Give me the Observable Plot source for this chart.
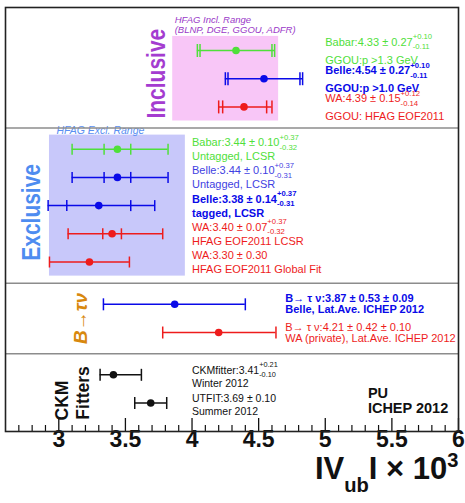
<!DOCTYPE html>
<html><head><meta charset="utf-8">
<script src="https://cdn.jsdelivr.net/npm/d3@7"></script>
<script src="https://cdn.jsdelivr.net/npm/@observablehq/plot@0.6"></script>
<style>body{margin:0;background:#fff;}</style>
</head><body><div id="chart"></div>
<script>
// ---------------- data ----------------
const sectionNames = ["Inclusive", "Exclusive", "B→τν", "CKM Fitters"];
const sectionSizes = [3, 5, 2, 2];
const experiments = ["Babar","Belle","WA","Babar","Belle","Belle","WA","WA","Belle","WA","CKMfitter","UTfit"];
const centers = [4.33, 4.54, 4.39, 3.44, 3.44, 3.30, 3.40, 3.23, 3.87, 4.20, 3.41, 3.69];
const statLo  = [4.06, 4.27, 4.23, 3.34, 3.34, 3.06, 3.33, null, null, null, null, null];
const statHi  = [4.60, 4.81, 4.56, 3.54, 3.54, 3.54, 3.47, null, null, null, null, null];
const totLo   = [4.04, 4.25, 4.20, 3.10, 3.10, 2.92, 3.07, 2.93, 3.335, 3.78, 3.31, 3.57];
const totHi   = [4.62, 4.83, 4.60, 3.82, 3.82, 3.72, 3.78, 3.53, 4.40, 4.63, 3.62, 3.81];
const labelLine1 = [
  "Babar:4.33 ± 0.27^{+0.10}_{-0.11}",
  "Belle:4.54 ± 0.27^{+0.10}_{-0.11}",
  "WA:4.39 ± 0.15^{+0.12}_{-0.14}",
  "Babar:3.44 ± 0.10^{+0.37}_{-0.32}",
  "Belle:3.44 ± 0.10^{+0.37}_{-0.31}",
  "Belle:3.38 ± 0.14^{+0.37}_{-0.31}",
  "WA:3.40 ± 0.07^{+0.37}_{-0.32}",
  "WA:3.30 ± 0.30",
  "B→ τ ν:3.87 ± 0.53 ± 0.09",
  "B→ τ ν:4.21 ± 0.42 ± 0.10",
  "CKMfitter:3.41^{+0.21}_{-0.10}",
  "UTFIT:3.69 ± 0.10"];
const labelLine2 = [
  "GGOU:p >1.3 GeV",
  "GGOU:p >1.0 GeV",
  "GGOU: HFAG EOF2011",
  "Untagged, LCSR",
  "Untagged, LCSR",
  "tagged, LCSR",
  "HFAG EOF2011 LCSR",
  "HFAG EOF2011 Global Fit",
  "Belle, Lat.Ave. ICHEP 2012",
  "WA (private), Lat.Ave. ICHEP 2012",
  "Winter 2012",
  "Summer 2012"];
const rangeNames = ["HFAG Incl. Range", "HFAG Excl. Range"];
const rangeSubtitles = ["(BLNP, DGE, GGOU, ADFR)", ""];
const rangeLo = [3.855, 2.93];
const rangeHi = [4.65, 3.95];
const majorTicks = [3, 3.5, 4, 4.5, 5, 5.5, 6];
const minorTicks = [2.7,2.8,2.9,3.1,3.2,3.3,3.4,3.6,3.7,3.8,3.9,4.1,4.2,4.3,4.4,4.6,4.7,4.8,4.9,5.1,5.2,5.3,5.4,5.6,5.7,5.8,5.9];
const axisTitle = "IV_{ub}I × 10^{3}";
const stampLines = ["PU", "ICHEP 2012"];

// ---------------- layout / style ----------------
const W = 465, H = 503, mTop = 7, mBottom = 72, mLeft = 5, mRight = 7;
const innerH = H - mTop - mBottom;
const green = "#4fe03a", blue = "#0a0ae8", red = "#ee1c1c", black = "#111";
const expColor = {Babar: green, Belle: blue, WA: red, CKMfitter: black, UTfit: black};
const textColorOverride = {4: "#3f3fe2"};
const boldRows = new Set([1, 5, 8]);
const sectionStyle = [
  {labelX: 5.0, dy: [-8, 9.5], fs: 11, cap: 6.5},
  {labelX: 4.0, dy: [-6.5, 7.5], fs: 11, cap: 5.5},
  {labelX: 4.70, dy: [-5.5, 5.5], fs: 11, cap: 6},
  {labelX: 4.0, dy: [-4.5, 9], fs: 10.5, cap: 6}
];

// row positions (in row units) computed from the section sizes
const table = [];
const sectionRows = [];
{
  let r = 0, i = 0;
  sectionSizes.forEach((n, s) => {
    const rs = [];
    for (let k = 0; k < n; k++, i++, r++) {
      rs.push(r);
      table.push({i, s, row: r, exp: experiments[i], c: centers[i],
        sLo: statLo[i], sHi: statHi[i], tLo: totLo[i], tHi: totHi[i],
        l1: labelLine1[i], l2: labelLine2[i]});
    }
    sectionRows.push(rs);
    r += 0.5;
  });
}
const firstRow = table[0].row, lastRow = table[table.length - 1].row;
const yDomain = [firstRow - 1.525, lastRow + 1.01];
const pxPerRow = innerH / (yDomain[1] - yDomain[0]);
const separators = sectionRows.slice(1).map((rs, k) => (rs[0] + sectionRows[k][sectionRows[k].length - 1]) / 2);
const ranges = rangeNames.map((n, k) => ({name: n, sub: rangeSubtitles[k], lo: rangeLo[k], hi: rangeHi[k],
  top: sectionRows[k][0] - 0.5, bottom: sectionRows[k][sectionRows[k].length - 1] + 0.5}));

const vbar = {draw(ctx, size) { const h = Math.sqrt(size); ctx.moveTo(0, -h); ctx.lineTo(0, h); }};
const colorOf = d => expColor[d.exp];

const marks = [];
// range boxes
marks.push(Plot.rect([ranges[0]], {x1: "lo", x2: "hi", y1: "top", y2: "bottom", fill: "#f8c6f7"}));
marks.push(Plot.rect([ranges[1]], {x1: "lo", x2: "hi", y1: "top", y2: "bottom", fill: "#c8c8fa"}));
marks.push(Plot.text([ranges[0]], {x: "lo", y: "top", text: "name", dx: 2, dy: -16, textAnchor: "start", fontSize: 9.5, fontStyle: "italic", fill: "#9a38c8"}));
marks.push(Plot.text([ranges[0]], {x: "lo", y: "top", text: "sub", dx: 2, dy: -6, textAnchor: "start", fontSize: 9.5, fontStyle: "italic", fill: "#9a38c8"}));
marks.push(Plot.text([ranges[1]], {x: "lo", y: "top", text: "name", dx: 7, dy: -4, textAnchor: "start", fontSize: 10.5, fontStyle: "italic", fill: "#5a8ff2"}));
// separators
marks.push(Plot.ruleY(separators, {stroke: "#8c8c8c", strokeWidth: 1.5}));
// error bars
marks.push(Plot.ruleY(table, {y: "row", x1: "tLo", x2: "tHi", stroke: colorOf, strokeWidth: 1.5}));
for (let s = 0; s < sectionSizes.length; s++) {
  const rows = table.filter(d => d.s === s);
  const r = sectionStyle[s].cap / Math.sqrt(Math.PI);
  for (const key of ["tLo", "tHi", "sLo", "sHi"]) {
    marks.push(Plot.dot(rows.filter(d => d[key] != null), {x: key, y: "row", symbol: vbar, r, stroke: colorOf, strokeWidth: 1.5}));
  }
}
marks.push(Plot.dot(table, {x: "c", y: "row", r: 3.8, fill: colorOf}));
// right-hand labels
for (const d of table) {
  const st = sectionStyle[d.s];
  const col = textColorOverride[d.i] || expColor[d.exp];
  const fw = boldRows.has(d.i) ? "bold" : "normal";
  marks.push(Plot.text([d], {x: () => st.labelX, y: "row", text: "l1", dy: st.dy[0], textAnchor: "start", fontSize: st.fs, fontWeight: fw, fill: col}));
  marks.push(Plot.text([d], {x: () => st.labelX, y: "row", text: "l2", dy: st.dy[1], textAnchor: "start", fontSize: st.fs, fontWeight: fw, fill: col}));
}
// section labels (rotated)
const mid = k => (sectionRows[k][0] + sectionRows[k][sectionRows[k].length - 1]) / 2;
marks.push(Plot.text([sectionNames[0]], {x: () => 3.733, y: () => mid(0) - 0.18, text: d => d, rotate: -90, fontSize: 21, fontWeight: "bold", fill: "#a43cd0"}));
marks.push(Plot.text([sectionNames[1]], {x: () => 2.80, y: () => mid(1) + 0.24, text: d => d, rotate: -90, fontSize: 21, fontWeight: "bold", fill: "#4e8cf0"}));
marks.push(Plot.text([sectionNames[2]], {x: () => 3.163, y: () => mid(2), text: d => d, rotate: -90, fontSize: 19, fontWeight: "bold", fontStyle: "italic", fill: "#d8880e"}));
const ckmWords = sectionNames[3].split(" ");
marks.push(Plot.text([ckmWords[0]], {x: () => 3.028, y: () => lastRow + 0.62, text: d => d, rotate: -90, textAnchor: "start", fontSize: 17.5, fontWeight: "bold", fill: black}));
marks.push(Plot.text([ckmWords[1]], {x: () => 3.185, y: () => lastRow + 0.59, text: d => d, rotate: -90, textAnchor: "start", fontSize: 17.5, fontWeight: "bold", fill: black}));
// stamp
marks.push(Plot.text([stampLines[0]], {x: () => 5.32, y: () => lastRow, text: d => d, dy: -9.5, textAnchor: "start", fontSize: 14.5, fontWeight: "bold", fill: black}));
marks.push(Plot.text([stampLines[1]], {x: () => 5.32, y: () => lastRow, text: d => d, dy: 5.5, textAnchor: "start", fontSize: 14.5, fontWeight: "bold", fill: black}));
// axis ticks and labels
marks.push(Plot.ruleX(minorTicks, {insetTop: innerH - 6, stroke: black, strokeWidth: 1.2}));
marks.push(Plot.ruleX(majorTicks, {insetTop: innerH - 13, stroke: black, strokeWidth: 1.3}));
marks.push(Plot.text(majorTicks, {x: d => d, frameAnchor: "bottom", text: d => d % 1 === 0 ? d.toFixed(0) : d.toFixed(1), dy: 15.5, fontSize: 23, fontWeight: "bold", fill: black}));
marks.push(Plot.text([axisTitle], {frameAnchor: "bottom-right", text: d => d, textAnchor: "end", dy: 47, fontSize: 31, fontWeight: "bold", fill: black}));
marks.push(Plot.frame({stroke: "#222", strokeWidth: 1.6}));

const chart = Plot.plot({
  width: W, height: H,
  marginTop: mTop, marginBottom: mBottom, marginLeft: mLeft, marginRight: mRight,
  style: {fontFamily: "'Liberation Sans', Arial, Helvetica, sans-serif", background: "#fff"},
  x: {domain: [2.6, 6], axis: null},
  y: {domain: yDomain, reverse: true, axis: null},
  color: {type: "identity"},
  marks
});
document.getElementById("chart").appendChild(chart);

// ---- render ^{sup}_{sub} markup as tspans ----
const NS = "http://www.w3.org/2000/svg";
for (const t of chart.querySelectorAll("text")) {
  const s = t.textContent;
  if (s === "Inclusive" || s === "Exclusive") {
    t.setAttribute("transform", (t.getAttribute("transform") || "") + " scale(1,1.22)");
  }
  if (!/[\^_]\{/.test(s)) continue;
  const fs = parseFloat(getComputedStyle(t).fontSize);
  const big = fs > 20;
  const sc = big ? 0.65 : 0.7, supS = big ? -0.36 : -0.6, subS = big ? 0.42 : 0.3;
  const parts = s.split(/(\^\{[^}]*\}|_\{[^}]*\})/).filter(p => p);
  while (t.firstChild) t.removeChild(t.firstChild);
  let cur = 0, prev = null, prevTs = null;
  for (const p of parts) {
    const ts = document.createElementNS(NS, "tspan");
    let kind = "n", target = 0;
    if (p.startsWith("^{")) { kind = "sup"; target = supS * fs; ts.textContent = p.slice(2, -1); ts.setAttribute("font-size", fs * sc); }
    else if (p.startsWith("_{")) { kind = "sub"; target = subS * fs; ts.textContent = p.slice(2, -1); ts.setAttribute("font-size", fs * sc); }
    else ts.textContent = p;
    const dy = target - cur;
    if (dy) ts.setAttribute("dy", dy.toFixed(2));
    cur = target;
    t.appendChild(ts);
    if (kind === "sub" && prev === "sup") ts.setAttribute("dx", (-prevTs.getComputedTextLength()).toFixed(2));
    prev = kind; prevTs = ts;
  }
}
</script>
</body></html>
